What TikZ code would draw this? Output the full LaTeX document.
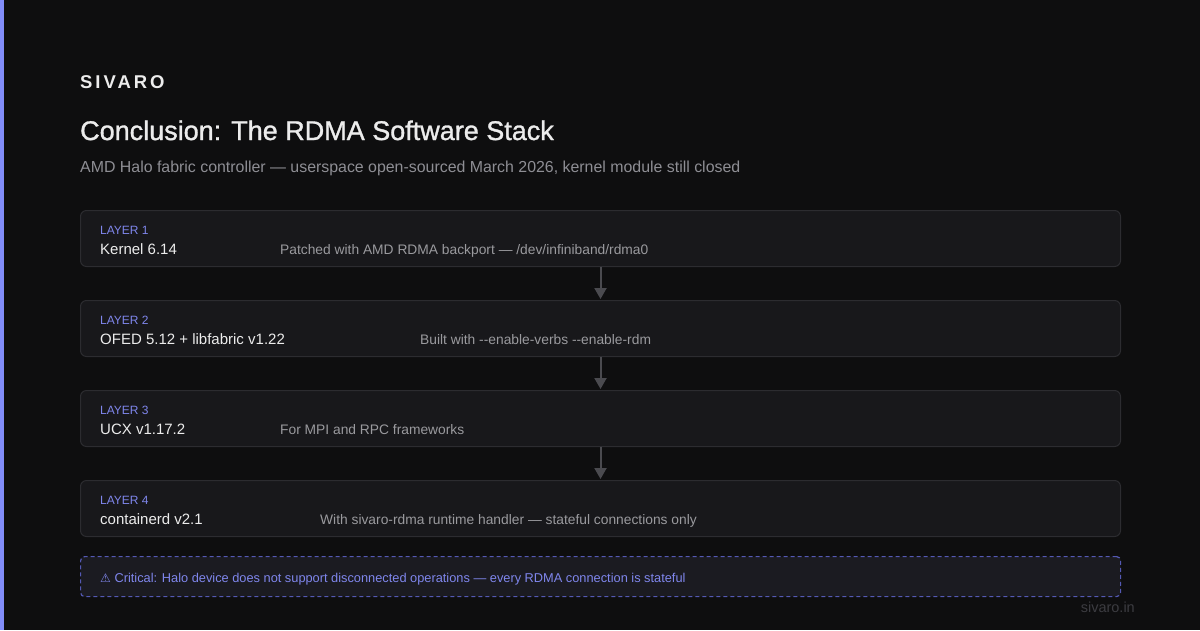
\documentclass[tikz,border=0pt]{standalone}
\usepackage{fontspec}
\setmainfont{Liberation Sans}
\newfontfamily\warnfont{DejaVu Sans}
\usetikzlibrary{arrows.meta}

\begin{document}
\begin{tikzpicture}[x=1pt, y=-1pt, layerbox/.style={draw=svEdge, line width=1pt, fill=svCard, rounded corners=6pt, minimum width=1040pt, minimum height=56pt, inner sep=0pt, anchor=north west}, warnbox/.style={draw=svIndigoDim, line width=1.2pt, dash pattern=on 4pt off 3pt, fill=svWarn, rounded corners=4pt, minimum width=1040pt, minimum height=40pt, inner sep=0pt, anchor=north west}, tag/.style={anchor=base west, inner sep=0pt, text=svIndigo, font=\fontsize{12}{14}\selectfont}, stackname/.style={anchor=base west, inner sep=0pt, text=svText, font=\fontsize{15}{18}\selectfont}, detail/.style={anchor=base west, inner sep=0pt, text=svGrey, font=\fontsize{13.8}{17}\selectfont}, flow/.style={-{Triangle[width=12pt, length=11pt]}, line width=2pt, svArrow, shorten >=1pt}, every node/.style={text=svText}]
\definecolor{svBg}{HTML}{0E0E0F}
\definecolor{svBar}{HTML}{818CF8}
\definecolor{svCard}{HTML}{18181B}
\definecolor{svEdge}{HTML}{2C2C30}
\definecolor{svWarn}{HTML}{1B1B21}
\definecolor{svIndigo}{HTML}{7F86EC}
\definecolor{svIndigoDim}{HTML}{5459B4}
\definecolor{svText}{HTML}{ECECEC}
\definecolor{svGrey}{HTML}{9A9A9E}
\definecolor{svSub}{HTML}{8E8E94}
\definecolor{svArrow}{HTML}{4A4A4F}
\definecolor{svFoot}{HTML}{3C3C41}
\fill[svBg] (0,0) rectangle (1200,630);
\useasboundingbox (0,0) rectangle (1200,630);
\fill[svBar] (0,0) rectangle (4,630);
\node[anchor=base west, inner sep=0pt, font=\fontsize{18.5}{22}\selectfont\bfseries\addfontfeatures{LetterSpace=16}] (brand) at (80,88) {SIVARO};
\node[anchor=base west, inner sep=0pt, font=\fontsize{27}{32}\selectfont\addfontfeatures{FakeBold=1.2}] (title) at (80,140) {Conclusion: The RDMA Software Stack};
\node[anchor=base west, inner sep=0pt, text=svSub, font=\fontsize{15.9}{19}\selectfont] (subtitle) at (80,172.5) {AMD Halo fabric controller — userspace open-sourced March 2026, kernel module still closed};
\node[layerbox] (layer1) at (80,210) {};
\node[tag] (tag1) at (100,234) {LAYER 1};
\node[stackname] (name1) at (100,254) {Kernel 6.14};
\node[detail] (detail1) at (280,254) {Patched with AMD RDMA backport — /dev/infiniband/rdma0};
\node[layerbox] (layer2) at (80,300) {};
\node[tag] (tag2) at (100,324) {LAYER 2};
\node[stackname] (name2) at (100,344) {OFED 5.12 + libfabric v1.22};
\node[detail] (detail2) at (420,344) {Built with {-}{-}enable-verbs {-}{-}enable-rdm};
\node[layerbox] (layer3) at (80,390) {};
\node[tag] (tag3) at (100,414) {LAYER 3};
\node[stackname] (name3) at (100,434) {UCX v1.17.2};
\node[detail] (detail3) at (280,434) {For MPI and RPC frameworks};
\node[layerbox] (layer4) at (80,480) {};
\node[tag] (tag4) at (100,504) {LAYER 4};
\node[stackname] (name4) at (100,524) {containerd v2.1};
\node[detail] (detail4) at (320,524) {With sivaro-rdma runtime handler — stateful connections only};
\draw[flow] (layer1.south) -- (layer2.north);
\draw[flow] (layer2.south) -- (layer3.north);
\draw[flow] (layer3.south) -- (layer4.north);
\node[warnbox] (critical) at (80,556) {};
\node[anchor=base west, inner sep=0pt, text=svIndigo, font=\fontsize{12.8}{15}\selectfont] (warning) at (100,582) {{\warnfont\fontsize{12}{14}\selectfont ⚠} Critical: Halo device does not support disconnected operations — every RDMA connection is stateful};
\node[anchor=base east, inner sep=0pt, text=svFoot, font=\fontsize{14.5}{17}\selectfont] (footer) at (1135,612) {sivaro.in};
\end{tikzpicture}
\end{document}
